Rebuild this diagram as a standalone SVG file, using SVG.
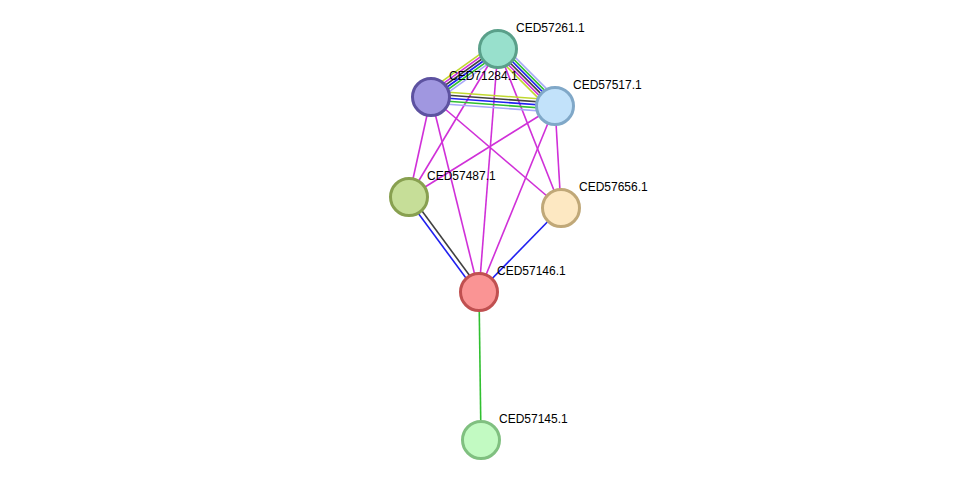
<svg xmlns="http://www.w3.org/2000/svg" width="976" height="486" viewBox="0 0 976 486">
<style>
.e line{stroke-width:1.6;fill:none}
.m{stroke:#d030d8}.k{stroke:#404040}.b{stroke:#2020f0}.g{stroke:#30c030}.y{stroke:#c0d830}.lb{stroke:#a8a8f8}
.n circle{stroke-width:3}
text{font-family:"Liberation Sans",Arial,sans-serif;font-size:12px;fill:#000}
</style>
<rect width="976" height="486" fill="#fff"/>
<g id="edges" class="e">
<line class="m" x1="431" y1="97" x2="409" y2="197"/>
<line class="m" x1="431" y1="97" x2="479" y2="292"/>
<line class="m" x1="431" y1="97" x2="561" y2="208"/>
<line class="m" x1="498" y1="49" x2="409" y2="197"/>
<line class="m" x1="498" y1="49" x2="479" y2="292"/>
<line class="m" x1="498" y1="49" x2="561" y2="208"/>
<line class="m" x1="555" y1="106" x2="409" y2="197"/>
<line class="m" x1="555" y1="106" x2="479" y2="292"/>
<line class="m" x1="555" y1="106" x2="561" y2="208"/>
<line class="b" x1="407" y1="198" x2="477" y2="293"/>
<line class="k" x1="411" y1="196" x2="481" y2="291"/>
<line class="b" x1="561" y1="208" x2="479" y2="292"/>
<line class="g" x1="479" y1="292" x2="481" y2="440"/>
<g transform="translate(431,97) rotate(4.15)">
<line class="y" x1="0" y1="-6" x2="124.3" y2="-6"/>
<line class="k" x1="0" y1="-3" x2="124.3" y2="-3"/>
<line class="b" x1="0" y1="0" x2="124.3" y2="0"/>
<line class="g" x1="0" y1="3" x2="124.3" y2="3"/>
<line class="lb" x1="0" y1="6" x2="124.3" y2="6"/>
</g>
<g transform="translate(498,49) rotate(144.4)">
<line class="lb" x1="0" y1="-6.25" x2="82.4" y2="-6.25"/>
<line class="g" x1="0" y1="-3.75" x2="82.4" y2="-3.75"/>
<line class="b" x1="0" y1="-1.25" x2="82.4" y2="-1.25"/>
<line class="k" x1="0" y1="1.25" x2="82.4" y2="1.25"/>
<line class="m" x1="0" y1="3.75" x2="82.4" y2="3.75"/>
<line class="y" x1="0" y1="6.25" x2="82.4" y2="6.25"/>
</g>
<g transform="translate(498,49) rotate(45)">
<line class="lb" x1="0" y1="-6.25" x2="80.6" y2="-6.25"/>
<line class="g" x1="0" y1="-3.75" x2="80.6" y2="-3.75"/>
<line class="b" x1="0" y1="-1.25" x2="80.6" y2="-1.25"/>
<line class="k" x1="0" y1="1.25" x2="80.6" y2="1.25"/>
<line class="m" x1="0" y1="3.75" x2="80.6" y2="3.75"/>
<line class="y" x1="0" y1="6.25" x2="80.6" y2="6.25"/>
</g>
</g>
<g id="CED57261" class="n"><circle cx="498" cy="49" r="18.5" fill="#98e0cc" stroke="#5aa08a"/><text x="516" y="32">CED57261.1</text></g>
<g id="CED71284" class="n"><circle cx="431" cy="97" r="18.5" fill="#a097e0" stroke="#5d52a0"/><text x="449" y="80">CED71284.1</text></g>
<g id="CED57517" class="n"><circle cx="555" cy="106" r="18.5" fill="#c2e2fa" stroke="#80a8c8"/><text x="573" y="89">CED57517.1</text></g>
<g id="CED57487" class="n"><circle cx="409" cy="197" r="18.5" fill="#c6de98" stroke="#88a050"/><text x="427" y="180">CED57487.1</text></g>
<g id="CED57656" class="n"><circle cx="561" cy="208" r="18.5" fill="#fde8c2" stroke="#c0a878"/><text x="579" y="191">CED57656.1</text></g>
<g id="CED57146" class="n"><circle cx="479" cy="292" r="18.5" fill="#fa9494" stroke="#c05050"/><text x="497" y="275">CED57146.1</text></g>
<g id="CED57145" class="n"><circle cx="481" cy="440" r="18.5" fill="#c2fac2" stroke="#80c080"/><text x="499" y="423">CED57145.1</text></g>
</svg>
